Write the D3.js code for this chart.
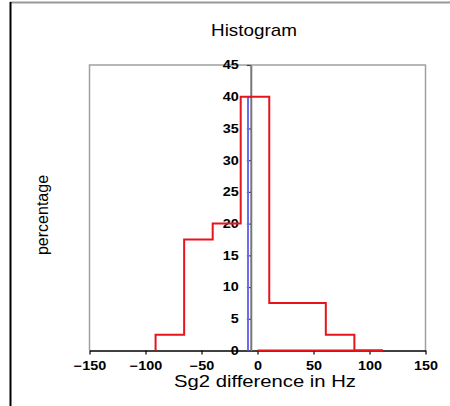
<!DOCTYPE html>
<html>
<head>
<meta charset="utf-8">
<script src="https://cdn.jsdelivr.net/npm/d3@7"></script>
<style>
  html, body { margin: 0; padding: 0; background: #fff; }
  svg { display: block; font-family: Arial, "Liberation Sans", sans-serif; }
</style>
</head>
<body>
<svg id="chart" width="450" height="406"></svg>
<script>
// Histogram bin edges (Hz) and percentage per bin
const binEdges = [-91, -65.5, -40, -15, 10.5, 36, 61, 86.5, 112];
const binPercent = [2.5, 17.5, 20, 40, 7.5, 7.5, 2.5, 0];
// Baseline run of the outline along zero
const zeroRun = [0, 112];
// Reference marker (blue) position and height
const markerX = -8.5;
const markerHeight = 40;
// Vertical axis crosses the horizontal axis here
const yAxisAt = -6;
// Tick values
const xTicks = [-150, -100, -50, 0, 50, 100, 150];
const yTicks = [0, 5, 10, 15, 20, 25, 30, 35, 40, 45];

const svg = d3.select("#chart");

const x = d3.scaleLinear().domain([-150, 150]).range([89.5, 425.5]);
const y = d3.scaleLinear().domain([0, 45]).range([350.5, 65]);

// Outer frame
svg.append("line").attr("x1", 10).attr("x2", 450).attr("y1", 2.5).attr("y2", 2.5)
  .attr("stroke", "#999").attr("stroke-width", 2);
svg.append("line").attr("x1", 10.5).attr("x2", 10.5).attr("y1", 2).attr("y2", 406)
  .attr("stroke", "#000").attr("stroke-width", 2);

// Plot area frame (left, top, right)
svg.append("path")
  .attr("d", `M${x(-150)},${y(0)}V${y(45)}H${x(150)}V${y(0)}`)
  .attr("fill", "none").attr("stroke", "#a0a0a0").attr("stroke-width", 1.5);

// Bold, slightly wide tick label style
function styleTicks(sel, shiftX) {
  sel.attr("fill", "#000").attr("font-size", 12).attr("font-weight", "bold")
    .attr("font-family", "Arial, 'Liberation Sans', sans-serif")
    .attr("x", 0)
    .attr("transform", `translate(${shiftX},0) scale(1.2,1)`);
}

// Horizontal axis
const xAxis = d3.axisBottom(x).tickValues(xTicks).tickSize(4).tickPadding(7).tickSizeOuter(0);
const gx = svg.append("g").attr("transform", `translate(0,${y(0)})`).call(xAxis);
gx.select(".domain").attr("stroke", "#000").attr("stroke-width", 1.5);
gx.selectAll(".tick line").attr("stroke", "#000").attr("stroke-width", 1.2);
styleTicks(gx.selectAll(".tick text"), 0);

// Vertical axis through yAxisAt
const yAxis = d3.axisLeft(y).tickValues(yTicks).tickSize(4).tickPadding(8).tickSizeOuter(0);
const gy = svg.append("g").attr("transform", `translate(${x(yAxisAt)},0)`).call(yAxis);
gy.select(".domain").attr("stroke", "#777").attr("stroke-width", 2);
gy.selectAll(".tick line").attr("stroke", "#444").attr("stroke-width", 1.2);
styleTicks(gy.selectAll(".tick text"), -12);

// Blue marker line
svg.append("line")
  .attr("x1", x(markerX)).attr("x2", x(markerX))
  .attr("y1", y(0)).attr("y2", y(markerHeight))
  .attr("stroke", "#6b6bf0").attr("stroke-width", 2);

// Histogram outline as a step line
const pts = [[binEdges[0], 0]];
binPercent.forEach((v, i) => {
  pts.push([binEdges[i], v]);
  pts.push([binEdges[i + 1], v]);
});
const line = d3.line().x(d => x(d[0])).y(d => y(d[1]));
svg.append("path").datum(pts)
  .attr("d", line).attr("fill", "none")
  .attr("stroke", "#e8141c").attr("stroke-width", 2);
svg.append("path").datum(zeroRun.map(v => [v, 0]))
  .attr("d", line).attr("fill", "none")
  .attr("stroke", "#e8141c").attr("stroke-width", 2);

// Titles
svg.append("text").attr("x", 254).attr("y", 36)
  .attr("text-anchor", "middle").attr("font-size", 17)
  .attr("textLength", 86).attr("lengthAdjust", "spacingAndGlyphs")
  .text("Histogram");
svg.append("text").attr("x", 265).attr("y", 387)
  .attr("text-anchor", "middle").attr("font-size", 17)
  .attr("textLength", 182).attr("lengthAdjust", "spacingAndGlyphs")
  .text("Sg2 difference in Hz");
svg.append("text")
  .attr("transform", "translate(48,215) rotate(-90)")
  .attr("text-anchor", "middle").attr("font-size", 16)
  .text("percentage");
</script>
</body>
</html>
